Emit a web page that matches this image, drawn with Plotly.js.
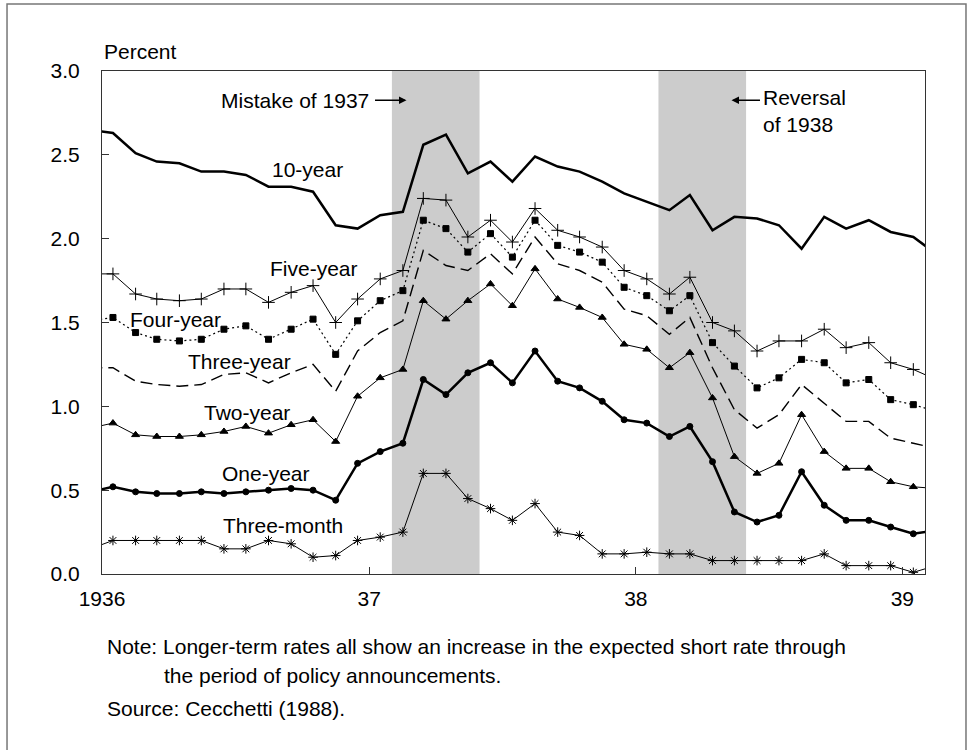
<!DOCTYPE html>
<html>
<head>
<meta charset="utf-8">
<script src="https://cdn.plot.ly/plotly-3.0.1.min.js"></script>
<style>html,body{margin:0;padding:0;background:#fff;}#chart{width:974px;height:750px;}</style>
</head>
<body>
<div id="chart"></div>
<script>
// Monthly observations (plotted at mid-month), Dec 1935 - Feb 1939
const months = [
  "1935-12","1936-01","1936-02","1936-03","1936-04","1936-05","1936-06","1936-07","1936-08","1936-09","1936-10","1936-11","1936-12",
  "1937-01","1937-02","1937-03","1937-04","1937-05","1937-06","1937-07","1937-08","1937-09","1937-10","1937-11","1937-12",
  "1938-01","1938-02","1938-03","1938-04","1938-05","1938-06","1938-07","1938-08","1938-09","1938-10","1938-11","1938-12",
  "1939-01","1939-02"
];

const tenYear = [2.65,2.63,2.51,2.46,2.45,2.40,2.40,2.38,2.31,2.31,2.28,2.08,2.06,
  2.14,2.16,2.56,2.62,2.39,2.46,2.34,2.49,2.43,2.40,2.34,2.27,
  2.22,2.17,2.26,2.05,2.13,2.12,2.08,1.94,2.13,2.06,2.11,2.04,
  2.01,1.91];
const fiveYear = [1.79,1.79,1.67,1.64,1.63,1.64,1.70,1.70,1.62,1.68,1.72,1.50,1.64,
  1.76,1.81,2.24,2.23,2.01,2.11,1.98,2.18,2.05,2.01,1.95,1.81,
  1.76,1.67,1.77,1.50,1.45,1.33,1.39,1.39,1.46,1.35,1.38,1.26,
  1.22,1.16];
const fourYear = [1.51,1.53,1.44,1.40,1.39,1.40,1.46,1.48,1.40,1.46,1.52,1.31,1.51,
  1.63,1.69,2.11,2.06,1.92,2.03,1.89,2.11,1.96,1.92,1.86,1.71,
  1.66,1.57,1.66,1.38,1.24,1.11,1.17,1.28,1.26,1.14,1.16,1.04,
  1.01,0.97];
const threeYear = [1.23,1.23,1.15,1.13,1.12,1.13,1.19,1.20,1.14,1.20,1.25,1.09,1.33,
  1.44,1.51,1.93,1.84,1.81,1.91,1.79,2.01,1.85,1.81,1.74,1.58,
  1.54,1.43,1.53,1.23,0.98,0.87,0.95,1.13,1.02,0.91,0.91,0.81,
  0.78,0.75];
const twoYear = [0.87,0.90,0.83,0.82,0.82,0.83,0.85,0.88,0.84,0.89,0.92,0.79,1.06,
  1.17,1.22,1.63,1.52,1.63,1.73,1.60,1.82,1.64,1.59,1.53,1.37,
  1.34,1.23,1.32,1.05,0.70,0.60,0.66,0.95,0.73,0.63,0.63,0.55,
  0.52,0.51];
const oneYear = [0.49,0.52,0.49,0.48,0.48,0.49,0.48,0.49,0.50,0.51,0.50,0.44,0.66,
  0.73,0.78,1.16,1.07,1.20,1.26,1.14,1.33,1.15,1.11,1.03,0.92,
  0.90,0.82,0.88,0.67,0.37,0.31,0.35,0.61,0.41,0.32,0.32,0.28,
  0.24,0.26];
const threeMonth = [0.15,0.20,0.20,0.20,0.20,0.20,0.15,0.15,0.20,0.18,0.10,0.11,0.20,
  0.22,0.25,0.60,0.60,0.45,0.39,0.32,0.42,0.25,0.23,0.12,0.12,
  0.13,0.12,0.12,0.08,0.08,0.08,0.08,0.08,0.12,0.05,0.05,0.05,
  0.01,0.05];

const tickVals = ["1936-01-01","1937-01-01","1938-01-01","1939-01-01"];
const tickText = ["1936","37","38","39"];
const yTicks = [0,0.5,1.0,1.5,2.0,2.5,3.0];

const episodes = [
  {start:"1937-02-01", end:"1937-06-01"},
  {start:"1938-02-01", end:"1938-06-01"}
];

const x = months.map(m => m + "-16");
const FONT = "Liberation Sans, Arial, Helvetica, sans-serif";
const FS = 21;

function tr(name, y, lineW, dash, sym, msize) {
  const t = {x:x, y:y, name:name, type:"scatter", mode: sym ? "lines+markers" : "lines",
    line:{color:"#000", width:lineW, dash:dash}, cliponaxis:true, hoverinfo:"skip"};
  if (sym) t.marker = {symbol:sym, size:msize, color:"#000", line:{color:"#000", width:1}};
  return t;
}

const data = [
  tr("10-year", tenYear, 2.5, "solid", null, 0),
  tr("Five-year", fiveYear, 1, "solid", "cross-thin-open", 9),
  tr("Four-year", fourYear, 1.2, "2px,3px", "square", 6),
  tr("Three-year", threeYear, 1.4, "12px,6px", null, 0),
  tr("Two-year", twoYear, 1, "solid", "triangle-up", 7),
  tr("One-year", oneYear, 2.5, "solid", "circle", 6),
  tr("Three-month", threeMonth, 1, "solid", "asterisk-open", 8)
];

const shapes = episodes.map(e => ({type:"rect", xref:"x", yref:"paper", x0:e.start, x1:e.end, y0:0, y1:1,
  fillcolor:"#cccccc", line:{width:0}, layer:"below"}));
shapes.push({type:"rect", xref:"paper", yref:"paper", x0:-0.1154, x1:1.0498, y0:-0.36, y1:1.1332,
  line:{color:"#777", width:1.5}, fillcolor:"rgba(0,0,0,0)", layer:"above"});

function lab(text, xd, yv, anchor) {
  return {text:text, x:xd, y:yv, xref:"x", yref:"y", showarrow:false, xanchor:anchor||"center", yanchor:"middle",
    font:{family:FONT, size:FS, color:"#000"}};
}

const annotations = [
  lab("10-year", "1936-10-09", 2.41),
  lab("Five-year", "1936-10-17", 1.825),
  lab("Four-year", "1936-04-11", 1.52),
  lab("Three-year", "1936-07-07", 1.27),
  lab("Two-year", "1936-07-18", 0.966),
  lab("One-year", "1936-08-13", 0.602),
  lab("Three-month", "1936-09-05", 0.292),
  lab("Mistake of 1937", "1937-01-03", 2.826, "right"),
  {text:"", x:"1937-02-21", y:2.826, xref:"x", yref:"y", ax:-33, ay:0, showarrow:true,
    arrowhead:2, arrowsize:1, arrowwidth:1.5, arrowcolor:"#000"},
  {text:"", x:"1938-05-12", y:2.826, xref:"x", yref:"y", ax:30, ay:0, showarrow:true,
    arrowhead:2, arrowsize:1, arrowwidth:1.5, arrowcolor:"#000"},
  {text:"Reversal<br>of 1938", x:"1938-06-22", y:2.76, xref:"x", yref:"y", showarrow:false,
    xanchor:"left", yanchor:"middle", align:"left", font:{family:FONT, size:FS, color:"#000"}},
  {text:"Percent", x:0, y:1.038, xref:"paper", yref:"paper", xanchor:"left", yanchor:"middle", showarrow:false,
    font:{family:FONT, size:FS, color:"#000"}},
  {text:"Note: Longer-term rates all show an increase in the expected short rate through", x:0.0036, y:-0.145,
    xref:"paper", yref:"paper", xanchor:"left", yanchor:"middle", showarrow:false, font:{family:FONT, size:FS, color:"#000"}},
  {text:"the period of policy announcements.", x:0.0729, y:-0.2008,
    xref:"paper", yref:"paper", xanchor:"left", yanchor:"middle", showarrow:false, font:{family:FONT, size:FS, color:"#000"}},
  {text:"Source: Cecchetti (1988).", x:0.0036, y:-0.268,
    xref:"paper", yref:"paper", xanchor:"left", yanchor:"middle", showarrow:false, font:{family:FONT, size:FS, color:"#000"}}
];

const layout = {
  width:974, height:750,
  margin:{l:102, r:49, t:71, b:176},
  paper_bgcolor:"#fff", plot_bgcolor:"rgba(0,0,0,0)",
  showlegend:false,
  font:{family:FONT, size:FS, color:"#000"},
  xaxis:{type:"date", range:["1936-01-01","1939-02-01"], tickvals:tickVals, ticktext:tickText,
    ticks:"inside", ticklen:7, tickcolor:"#333", showline:true, linecolor:"#333", linewidth:1, mirror:true,
    showgrid:false, zeroline:false, tickfont:{family:FONT, size:FS, color:"#000"}, ticklabelstandoff:6},
  yaxis:{range:[0,3], tickvals:yTicks, tickformat:".1f", ticks:"inside", ticklen:7, tickcolor:"#333",
    showline:true, linecolor:"#333", linewidth:1, mirror:true, showgrid:false, zeroline:false,
    tickfont:{family:FONT, size:FS, color:"#000"}, ticklabelstandoff:17},
  shapes:shapes,
  annotations:annotations
};

Plotly.newPlot("chart", data, layout, {staticPlot:true});
</script>
</body>
</html>
